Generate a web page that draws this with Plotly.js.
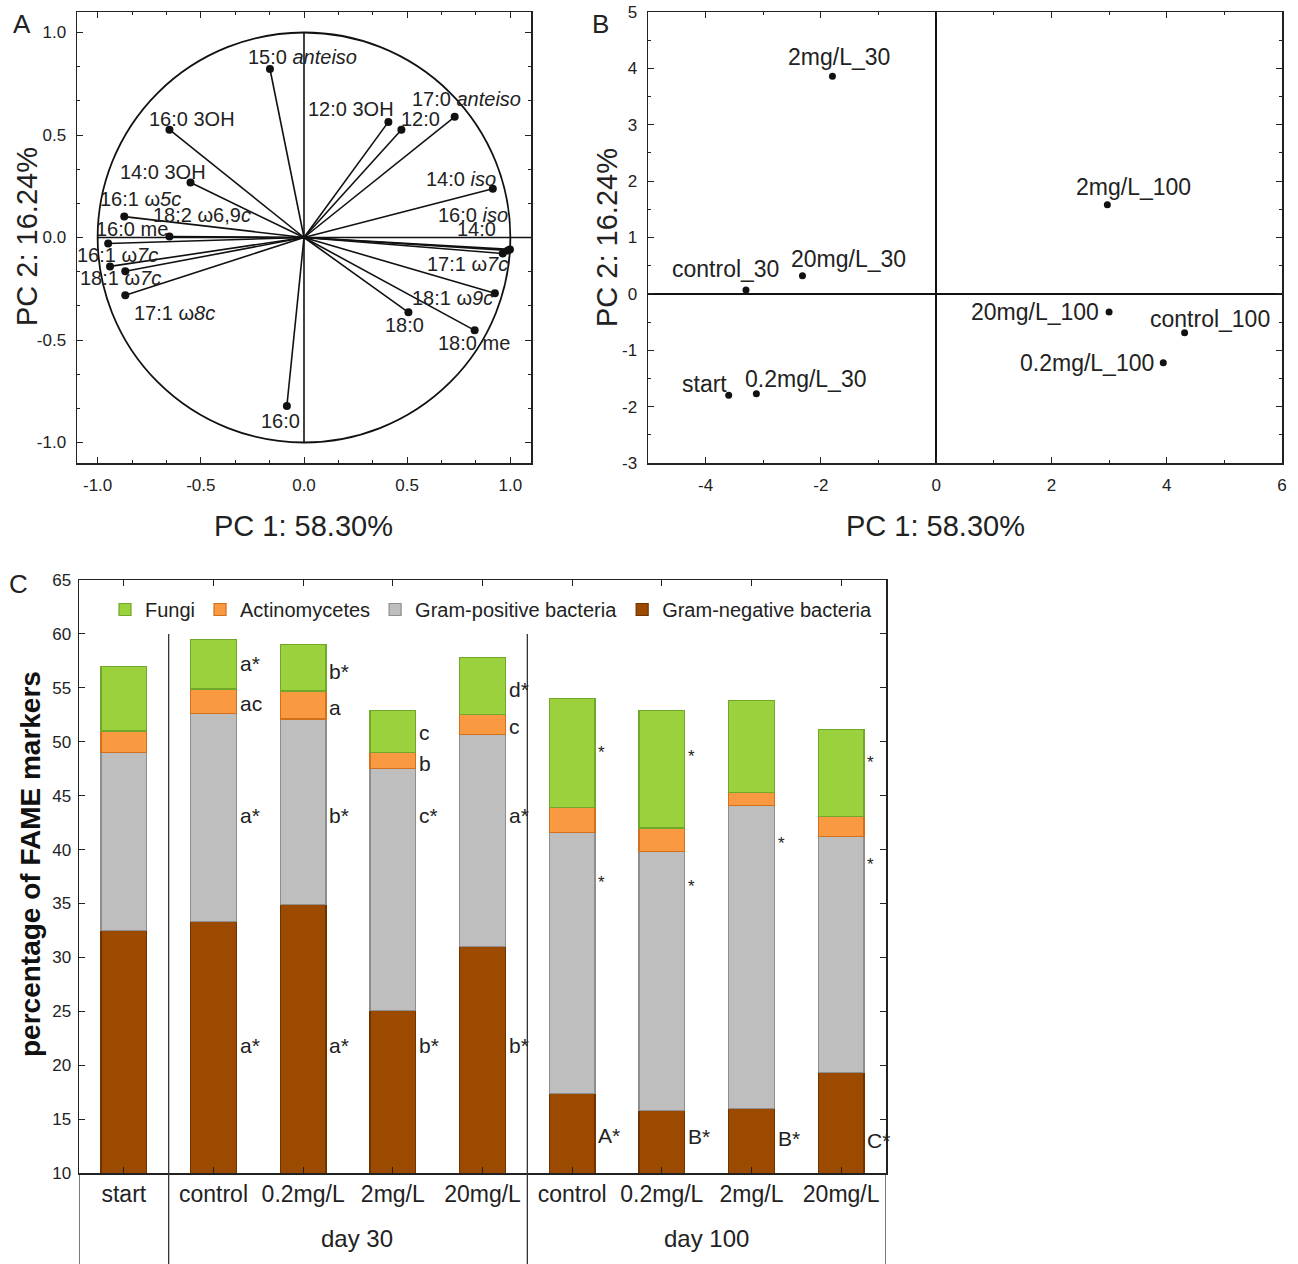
<!DOCTYPE html>
<html>
<head>
<meta charset="utf-8">
<script src="https://cdn.plot.ly/plotly-3.0.1.min.js"></script>
<style>html,body{margin:0;padding:0;background:#fff;}</style>
</head>
<body>
<div id="chart" style="width:1298px;height:1264px;"></div>
<script>
// ---------------- Panel A: loadings ----------------
const loadNames = ["15:0 <i>anteiso</i>","16:0 3OH","12:0 3OH","12:0","17:0 <i>anteiso</i>","14:0 3OH","14:0 <i>iso</i>",
  "16:1 ω<i>5c</i>","18:2 ω6,9<i>c</i>","16:0 me","16:1 ω<i>7c</i>","18:1 ω<i>7c</i>","17:1 ω<i>8c</i>",
  "16:0 <i>iso</i>","14:0","17:1 ω<i>7c</i>","18:1 ω<i>9c</i>","18:0","18:0 me","16:0"];
const loadPC1 = [-0.165,-0.652,0.409,0.472,0.730,-0.550,0.915,-0.871,-0.652,-0.949,-0.940,-0.866,-0.866,0.998,0.988,0.963,0.925,0.506,0.827,-0.083];
const loadPC2 = [0.822,0.526,0.564,0.526,0.589,0.268,0.238,0.102,0.005,-0.029,-0.141,-0.165,-0.282,-0.058,-0.063,-0.078,-0.272,-0.365,-0.453,-0.822];
const axisTicksA = [-1,-0.5,0,0.5,1];
const axisTickTextA = ["-1.0","-0.5","0.0","0.5","1.0"];

// ---------------- Panel B: scores ----------------
const sampleNames = ["2mg/L_30","2mg/L_100","control_30","20mg/L_30","20mg/L_100","control_100","0.2mg/L_100","start","0.2mg/L_30"];
const scorePC1 = [-1.80,2.97,-3.30,-2.32,3.00,4.31,3.94,-3.60,-3.12];
const scorePC2 = [3.86,1.58,0.07,0.32,-0.32,-0.69,-1.22,-1.80,-1.77];
const xTicksB = [-4,-2,0,2,4,6];
const xTickTextB = ["-4","-2","0","2","4","6"];
const yTicksB = [-3,-2,-1,0,1,2,3,4,5];
const yTickTextB = ["-3","-2","-1","0","1","2","3","4","5"];

// ---------------- Panel C: FAME markers ----------------
const categories = ["start","control","0.2mg/L","2mg/L","20mg/L","control","0.2mg/L","2mg/L","20mg/L"];
const gramNeg = [32.5,33.3,34.9,25.1,31.0,17.4,15.8,16.0,19.3];
const gramPos = [16.5,19.3,17.2,22.4,19.7,24.2,24.0,28.1,21.9];
const actino  = [2.0,2.3,2.6,1.5,1.8,2.3,2.2,1.2,1.9];
const fungi   = [6.0,4.6,4.3,3.9,5.3,10.1,10.9,8.5,8.0];
const groupLabels = ["day 30","day 100"];
// significance letters: [category index, text, y position]
const letterBar  = [1,1,1,1, 2,2,2,2, 3,3,3,3, 4,4,4,4, 5,5,5, 6,6,6, 7,7, 8,8,8];
const letterText = ["a*","ac","a*","a*", "b*","a","b*","a*", "c","b","c*","b*", "d*","c","a*","b*",
                    "*","*","A*", "*","*","B*", "*","B*", "*","*","C*"];
const letterY    = [57.3,53.5,43.2,21.8, 56.5,53.2,43.2,21.8, 50.9,48.0,43.2,21.8, 54.8,51.4,43.2,21.8,
                    49.0,36.9,13.5, 48.6,36.6,13.4, 40.6,13.2, 48.1,38.6,13.0];

// ---------------- geometry (layout only) ----------------
const W = 1298, H = 1264;
const px = v => v / W, py = v => 1 - v / H;
const FONT = "Liberation Sans, Arial, sans-serif";
const TXT = "#222";
const domA = {x:[px(77), px(531)], y:[py(463), py(12)]};
const domB = {x:[px(648), px(1282)], y:[py(463), py(12)]};
const domC = {x:[px(79), px(886)], y:[py(1173), py(580)]};
// label offsets (pixels, label centre relative to point)
const offA = [[33,12],[23,11],[-37,13],[19,11],[12,18],[-28,11],[-32,10],[16,18],[33,21],[24,14],[7,11],[-5,-7],[49,-18],
              [-37,34],[-31,21],[-35,-11],[-42,-5],[-4,-13],[-1,-13],[-6,-15]];
const offB = [[7,19],[26,18],[-20,21],[46,17],[-74,0],[25,14],[-76,0],[-24,11],[49,15]];

const traces = [];
// vectors
const vx = [], vy = [];
loadPC1.forEach((x,i) => { vx.push(0, x, null); vy.push(0, loadPC2[i], null); });
traces.push({type:"scatter", mode:"lines", x:vx, y:vy, xaxis:"x", yaxis:"y",
  line:{color:"#111", width:1.6}, hoverinfo:"skip", showlegend:false});
traces.push({type:"scatter", mode:"markers", x:loadPC1, y:loadPC2, text:loadNames, xaxis:"x", yaxis:"y",
  marker:{color:"#111", size:8}, showlegend:false});
// scores
traces.push({type:"scatter", mode:"markers", x:scorePC1, y:scorePC2, text:sampleNames, xaxis:"x2", yaxis:"y2",
  marker:{color:"#111", size:7}, showlegend:false});
// bars
const xIdx = categories.map((c,i) => i);
const barDefs = [
  {name:"Gram-negative bacteria", y:gramNeg, fill:"#9C4A00", line:"#6E3300"},
  {name:"Gram-positive bacteria", y:gramPos, fill:"#BEBEBE", line:"#8E8E8E"},
  {name:"Actinomycetes", y:actino, fill:"#F99A43", line:"#D46F1E"},
  {name:"Fungi", y:fungi, fill:"#9BD13D", line:"#6FA82A"}
];
barDefs.forEach(b => traces.push({type:"bar", name:b.name, x:xIdx, y:b.y, xaxis:"x3", yaxis:"y3",
  width:0.51, marker:{color:b.fill, line:{color:b.line, width:1.2}}}));

const annotations = [];
const ann = o => annotations.push(Object.assign({showarrow:false, xanchor:"center", yanchor:"middle"}, o));
loadNames.forEach((n,i) => ann({xref:"x", yref:"y", x:loadPC1[i], y:loadPC2[i], text:n,
  xshift:offA[i][0], yshift:offA[i][1], font:{family:FONT, size:20, color:TXT}}));
sampleNames.forEach((n,i) => ann({xref:"x2", yref:"y2", x:scorePC1[i], y:scorePC2[i], text:n,
  xshift:offB[i][0], yshift:offB[i][1], font:{family:FONT, size:23, color:TXT}}));
letterText.forEach((t,i) => ann({xref:"x3", yref:"y3", x:letterBar[i] + 0.27, y:letterY[i], text:t,
  xanchor:"left", font:{family:FONT, size:t === "*" ? 17 : 21, color:TXT}}));
// group labels
ann({xref:"x3", yref:"paper", x:2.6, y:py(1238), text:groupLabels[0], font:{family:FONT, size:24, color:TXT}});
ann({xref:"x3", yref:"paper", x:6.5, y:py(1238), text:groupLabels[1], font:{family:FONT, size:24, color:TXT}});
// axis titles and panel letters
const titleFont = {family:FONT, size:29, color:TXT};
ann({xref:"paper", yref:"paper", x:px(303), y:py(526), text:"PC 1: 58.30%", font:titleFont});
ann({xref:"paper", yref:"paper", x:px(27), y:py(237), text:"PC 2: 16.24%", textangle:-90, font:titleFont});
ann({xref:"paper", yref:"paper", x:px(935), y:py(526), text:"PC 1: 58.30%", font:titleFont});
ann({xref:"paper", yref:"paper", x:px(607), y:py(238), text:"PC 2: 16.24%", textangle:-90, font:titleFont});
ann({xref:"paper", yref:"paper", x:px(30), y:py(864), text:"<b>percentage of FAME markers</b>", textangle:-90,
  font:{family:FONT, size:28, color:"#111"}});
[["A",22,24],["B",600,24],["C",18,584]].forEach(p => ann({xref:"paper", yref:"paper", x:px(p[1]), y:py(p[2]),
  text:p[0], font:{family:FONT, size:26, color:TXT}}));

const shapes = [
  {type:"circle", xref:"x", yref:"y", x0:-1, x1:1, y0:-1, y1:1, line:{color:"#111", width:1.8}},
  {type:"line", xref:"x", yref:"y", x0:-1, x1:1.1, y0:0, y1:0, line:{color:"#111", width:1.6}},
  {type:"line", xref:"x", yref:"y", x0:0, x1:0, y0:-1, y1:1, line:{color:"#111", width:1.6}}
];
// panel C separators and lower box
const y60 = domC.y[0] + (60 - 10) / (65 - 10) * (domC.y[1] - domC.y[0]);
[0.5, 4.5].forEach(x => shapes.push({type:"line", xref:"x3", yref:"paper", x0:x, x1:x, y0:0, y1:y60, line:{color:"#333", width:1.3}}));
[-0.5, 8.5].forEach(x => shapes.push({type:"line", xref:"x3", yref:"paper", x0:x, x1:x, y0:0, y1:domC.y[0], line:{color:"#333", width:1.3}}));

const tickFont = {family:FONT, size:17, color:TXT};
const frame = {showline:true, linecolor:"#222", linewidth:1.5, mirror:"allticks", ticks:"inside", ticklen:6,
  tickcolor:"#222", showgrid:false, zeroline:false, tickfont:tickFont, fixedrange:true};

const layout = {
  width:W, height:H, margin:{l:0, r:0, t:0, b:0}, paper_bgcolor:"#fff", plot_bgcolor:"#fff",
  font:{family:FONT, color:TXT}, barmode:"stack", showlegend:true,
  xaxis: Object.assign({}, frame, {domain:domA.x, range:[-1.1,1.1], anchor:"y", tickmode:"array", tickvals:axisTicksA,
    ticktext:axisTickTextA, ticklabelstandoff:6, minor:{tickmode:"linear", tick0:0, dtick:1/6, ticks:"inside", ticklen:3, tickcolor:"#222"}}),
  yaxis: Object.assign({}, frame, {domain:domA.y, range:[-1.1,1.1], anchor:"x", tickmode:"array", tickvals:axisTicksA,
    ticktext:axisTickTextA, ticklabelstandoff:6, minor:{tickmode:"linear", tick0:0, dtick:1/6, ticks:"inside", ticklen:3, tickcolor:"#222"}}),
  xaxis2: Object.assign({}, frame, {domain:domB.x, range:[-5,6], anchor:"y2", tickmode:"array", tickvals:xTicksB,
    ticktext:xTickTextB, ticklabelstandoff:6, zeroline:true, zerolinecolor:"#111", zerolinewidth:1.8,
    minor:{tickmode:"linear", tick0:0, dtick:1, ticks:"inside", ticklen:3, tickcolor:"#222"}}),
  yaxis2: Object.assign({}, frame, {domain:domB.y, range:[-3,5], anchor:"x2", tickmode:"array", tickvals:yTicksB,
    ticktext:yTickTextB, ticklabelstandoff:6, zeroline:true, zerolinecolor:"#111", zerolinewidth:1.8,
    minor:{tickmode:"linear", tick0:0, dtick:0.5, ticks:"inside", ticklen:3, tickcolor:"#222"}}),
  xaxis3: Object.assign({}, frame, {domain:domC.x, range:[-0.5,8.5], anchor:"y3", tickmode:"array", tickvals:xIdx,
    ticktext:categories, ticklabelstandoff:0, tickfont:{family:FONT, size:23, color:TXT}}),
  yaxis3: Object.assign({}, frame, {domain:domC.y, range:[10,65], anchor:"x3", tickmode:"linear", tick0:10, dtick:5,
    ticklabelstandoff:3}),
  legend:{orientation:"h", x:px(105), y:py(590), xanchor:"left", yanchor:"top", traceorder:"reversed",
    font:{family:FONT, size:20, color:TXT}, bgcolor:"rgba(0,0,0,0)", itemwidth:30},
  annotations: annotations, shapes: shapes
};

Plotly.newPlot("chart", traces, layout, {staticPlot:true, displayModeBar:false});
</script>
</body>
</html>
